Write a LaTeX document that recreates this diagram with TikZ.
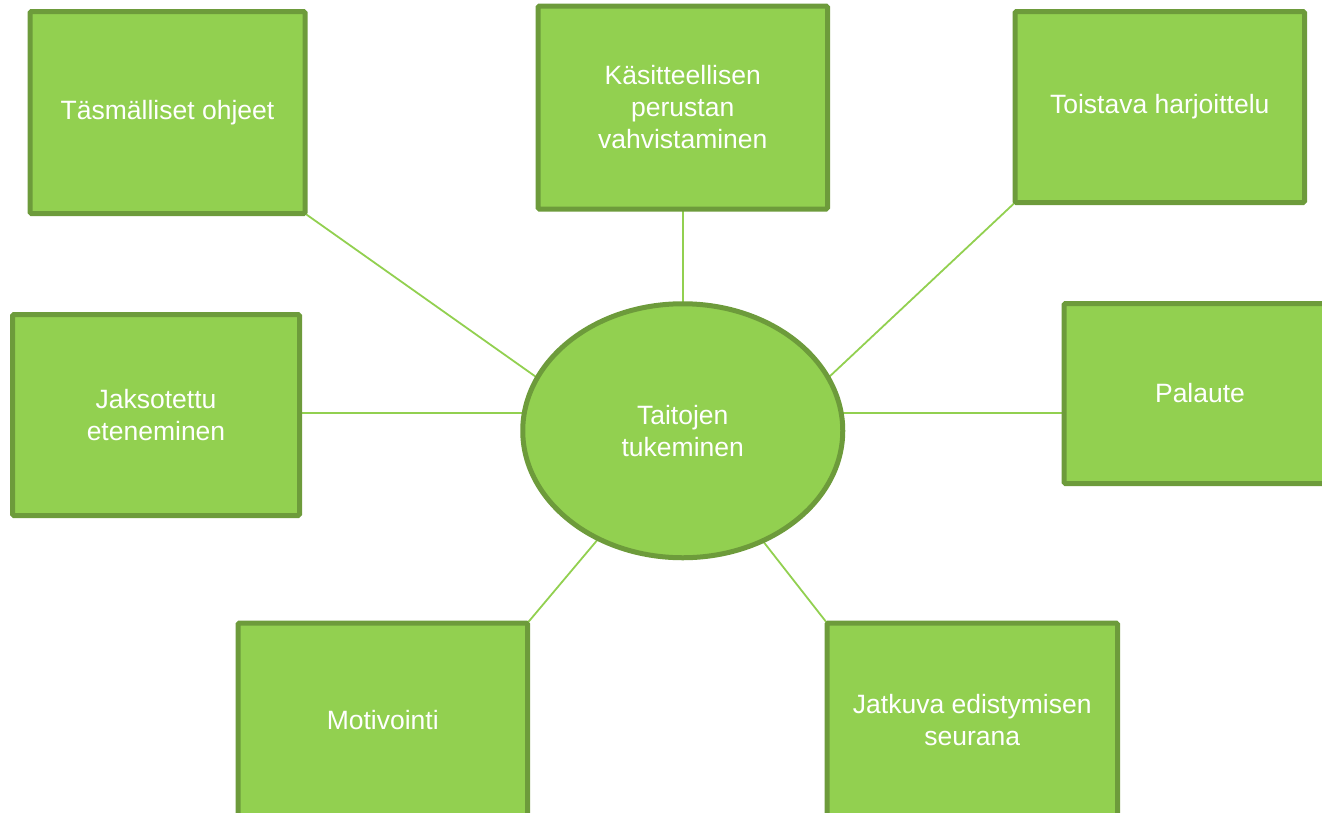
\documentclass[tikz,border=0pt]{standalone}
\usepackage{fontspec}
\setmainfont{Liberation Sans}
\usetikzlibrary{shapes.geometric,backgrounds}
\definecolor{leaf}{HTML}{92D050}
\definecolor{moss}{HTML}{6D9B3B}
\tikzset{
  box/.style={draw=moss, fill=leaf, line width=5pt, rounded corners=1.5pt,
    text=white, align=center, inner sep=0pt, outer sep=0pt,
    font=\fontsize{26.5}{32}\selectfont},
  hub/.style={ellipse, draw=moss, fill=leaf, line width=5pt,
    text=white, align=center, inner sep=0pt, outer sep=0pt,
    minimum width=320pt, minimum height=254pt,
    font=\fontsize{26.5}{32}\selectfont},
  spoke/.style={draw=leaf, line width=1.8pt}
}
\begin{document}
\begin{tikzpicture}[x=1pt, y=-1pt]
\useasboundingbox (0,0) rectangle (1322,812);
\clip (0,0) rectangle (1322,812);

\node[hub] (c) at (682.75,430.75) {Taitojen\\tukeminen};

\node[box, minimum width=275pt, minimum height=202pt] (t) at (167.5,112.5) {Täsmälliset ohjeet};
\node[box, minimum width=289.5pt, minimum height=203pt] (k) at (682.75,107.5) {Käsitteellisen\\perustan\\vahvistaminen};
\node[box, minimum width=289.5pt, minimum height=191pt] (h) at (1159.75,107) {Toistava harjoittelu};
\node[box, minimum width=287pt, minimum height=201pt] (j) at (156,415) {Jaksotettu\\eteneminen};
\node[box, minimum width=272pt, minimum height=180pt] (p) at (1200,393.5) {Palaute};
\node[box, minimum width=289.5pt, minimum height=194pt] (m) at (382.75,720) {Motivointi};
\node[box, minimum width=290.5pt, minimum height=194pt] (s) at (972.25,720) {Jatkuva edistymisen\\seurana};

% level of the two horizontal spokes
\coordinate (lvl) at (0,413);

\begin{scope}[on background layer]
  \draw[spoke] (t.south east) -- (c.160);
  \draw[spoke] (k.south) -- (c.north);
  \draw[spoke] (h.south west) -- (c.20);
  \draw[spoke] (j.east |- lvl) -- (c.west |- lvl);
  \draw[spoke] (c.east |- lvl) -- (p.west |- lvl);
  \draw[spoke] (m.north east) -- (c.232);
  \draw[spoke] (s.north west) -- (c.306);
\end{scope}
\end{tikzpicture}
\end{document}
